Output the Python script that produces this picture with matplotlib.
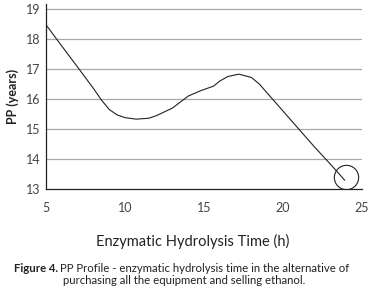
import matplotlib
matplotlib.use("Agg")
import matplotlib.pyplot as plt

plt.rcParams['font.family'] = ['Lato', 'DejaVu Sans']

# PP profile
hours = [5, 6, 7, 8, 8.5, 9, 9.5, 10, 10.7, 11.5, 12, 13, 14, 14.8, 15.6,
         16, 16.5, 17.2, 18, 18.5, 19.2, 20, 21, 22, 23, 23.9]
pp = [18.47, 17.76, 17.06, 16.35, 15.97, 15.65, 15.47, 15.38, 15.33, 15.36,
      15.45, 15.7, 16.1, 16.28, 16.43, 16.6, 16.75, 16.83, 16.72, 16.5,
      16.08, 15.6, 15.0, 14.4, 13.83, 13.3]
circle_x = [23.97]
circle_y = [13.41]

xticks = [5, 10, 15, 20, 25]
yticks = [13, 14, 15, 16, 17, 18, 19]

fig = plt.figure(figsize=(3.72, 3.02), dpi=100)
ax = fig.add_axes([0.124, 0.374, 0.849, 0.613])

for y in yticks[1:]:
    ax.axhline(y, color='#a8a8a8', lw=0.9, zorder=0)

ax.plot(hours, pp, color='#222222', lw=0.8)
ax.plot(circle_x, circle_y, 'o', ms=17.5, mfc='none', mec='#222222', mew=0.8)

ax.set_xlim(5, 25)
ax.set_ylim(13, 19.17)
ax.set_xticks(xticks)
ax.set_yticks(yticks)
ax.tick_params(length=0, labelsize=9, colors='#444444', pad=4)
ax.tick_params(axis='x', pad=9)
for s in ['top', 'right']:
    ax.spines[s].set_visible(False)
ax.spines['left'].set_linewidth(0.9)
ax.spines['bottom'].set_linewidth(0.9)
ax.spines['left'].set_color('#222222')
ax.spines['bottom'].set_color('#222222')

ax.set_ylabel("PP (years)", fontsize=9, fontweight='bold', color='#222222', labelpad=5)
ax.set_xlabel("Enzymatic Hydrolysis Time (h)", fontsize=10.5, color='#222222')
ax.xaxis.set_label_coords(0.465, -0.245)

t1 = fig.text(0.038, 1 - 268 / 302, "Figure 4.", fontsize=8.2, fontweight='bold',
              va='center', color='#222222')
fig.canvas.draw()
bb = t1.get_window_extent()
x1 = bb.x1 / fig.bbox.width
fig.text(x1 + 0.006, 1 - 268 / 302,
         "PP Profile - enzymatic hydrolysis time in the alternative of",
         fontsize=8.2, va='center', color='#222222')
fig.text(0.495, 1 - 281 / 302,
         "purchasing all the equipment and selling ethanol.",
         fontsize=8.2, va='center', ha='center', color='#222222')

fig.savefig("out.png", dpi=100)
